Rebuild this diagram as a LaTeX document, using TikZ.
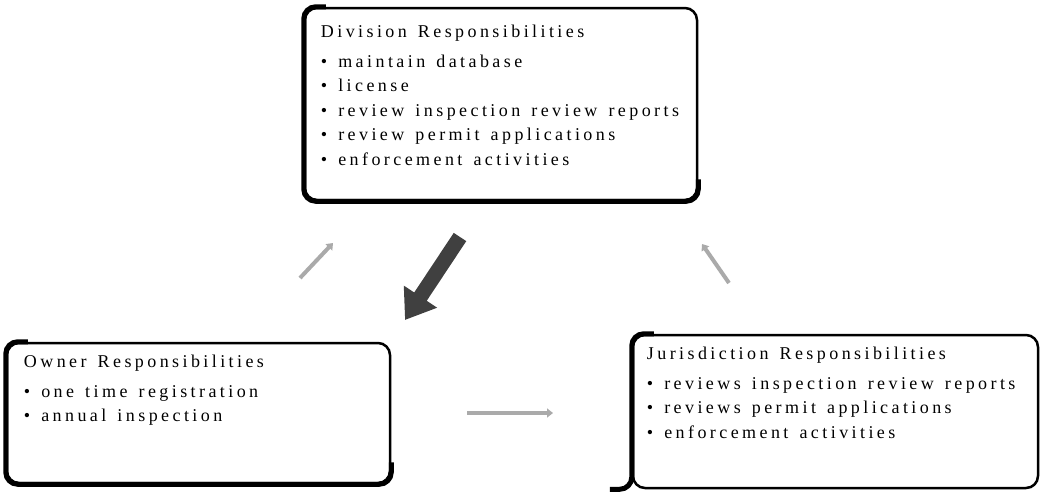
\documentclass[tikz,border=0pt]{standalone}
\usepackage{fontspec}
\newfontfamily\boxfont{Liberation Serif}[LetterSpace=19, WordSpace=1.4]
\usepackage{tikz}
\usepackage{xcolor}
\definecolor{lightarrow}{RGB}{170,170,170}
\definecolor{darkarrow}{RGB}{64,64,64}
\usetikzlibrary{positioning, arrows.meta}
\tikzstyle{Box} = [draw, line width=2.5pt, rounded corners=12pt, inner sep=0pt]
\tikzstyle{Edge} = [line width=5pt, rounded corners=12pt]
\tikzstyle{Text} = [inner sep=0pt, anchor=north west, align=left,
font=\boxfont\fontsize{18}{24.5}\selectfont]
\tikzstyle{Arrow} = [line width=4pt, lightarrow,
-{Triangle[length=6pt, width=9pt]}]
\tikzstyle{BigArrow} = [line width=15pt, darkarrow,
-{Triangle[length=28pt, width=38pt]}]

\begin{document}
\begin{tikzpicture}[x=1pt, y=-1pt]
    \useasboundingbox (0,0) rectangle (1041,491);

    \node [Box, minimum width=392pt, minimum height=192pt] (division) at (501,104) {};
    \node [Box, minimum width=383pt, minimum height=140pt] (owner) at (198.5,413) {};
    \node [Box, minimum width=405pt, minimum height=153pt] (jurisdiction) at (835.5,411.5) {};

    % heavy left and bottom edges
    \draw[Edge] ([xshift=22pt]division.north west) -- (division.north west)
        -- (division.south west) -- (division.south east) -- ([yshift=22pt]division.south east);
    \draw[Edge] ([xshift=22pt]owner.north west) -- (owner.north west)
        -- (owner.south west) -- (owner.south east) -- ([yshift=22pt]owner.south east);
    \draw[Edge] ([xshift=22pt]jurisdiction.north west) -- (jurisdiction.north west)
        -- (jurisdiction.south west) -- ([xshift=-22pt]jurisdiction.south west);

    \node [Text, below right=18pt and 17pt of division.north west] (divisiontext) {%
        Division Responsibilities\\[5.5pt]
        • maintain database\\
        • license\\
        • review inspection review reports\\
        • review permit applications\\
        • enforcement activities};
    \node [Text, below right=13pt and 18pt of owner.north west] (ownertext) {%
        Owner Responsibilities\\[5.5pt]
        • one time registration\\
        • annual inspection};
    \node [Text, below right=13pt and 15pt of jurisdiction.north west] (jurisdictiontext) {%
        Jurisdiction Responsibilities\\[5.5pt]
        • reviews inspection review reports\\
        • reviews permit applications\\
        • enforcement activities};

    \coordinate (ownerout) at (300,278);
    \coordinate (divisionin) at (333,243);
    \coordinate (divisionout) at (460,237);
    \coordinate (ownerin) at (405,320);
    \coordinate (jurisdictionout) at (729,283);
    \coordinate (divisionright) at (702,244);
    \coordinate (ownerright) at (467,413);
    \coordinate (jurisdictionin) at (553,413);

    \draw[Arrow] (ownerout) -- (divisionin);
    \draw[BigArrow] (divisionout) -- (ownerin);
    \draw[Arrow] (jurisdictionout) -- (divisionright);
    \draw[Arrow] (ownerright) -- (jurisdictionin);
\end{tikzpicture}
\end{document}
